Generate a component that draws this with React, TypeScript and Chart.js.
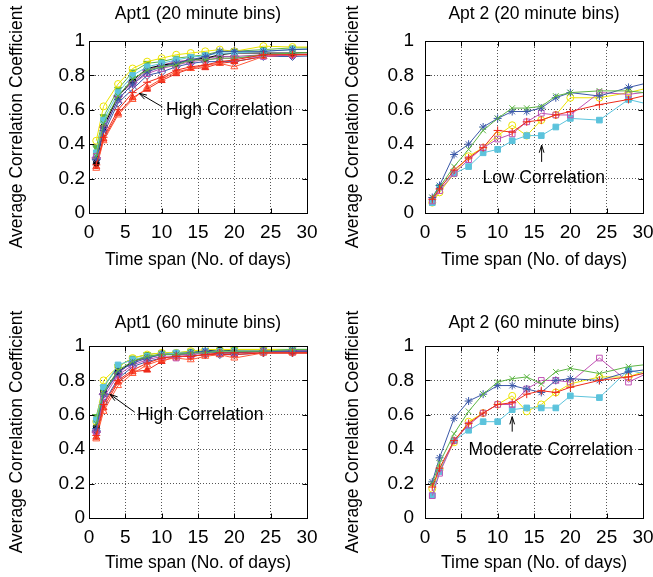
import React, { useEffect, useRef } from 'react';
import { Chart, registerables } from 'chart.js';
Chart.register(...registerables);

const FONT = '"Liberation Sans", Arial, Helvetica, sans-serif';
Chart.defaults.font.family = FONT;

// ---------- data ----------
const days = [1, 2, 4, 6, 8, 10, 12, 14, 16, 18, 20, 24, 28, 32];
const xTickLabels = ['0', '5', '10', '15', '20', '25', '30'];
const yTickLabels = ['0', '0.2', '0.4', '0.6', '0.8', '1'];

// Apt1, 20 minute bins
const a1m20RedPlus = [0.28, 0.44, 0.60, 0.70, 0.76, 0.79, 0.83, 0.85, 0.86, 0.88, 0.89, 0.92, 0.92, 0.925];
const a1m20GreenX = [0.33, 0.52, 0.68, 0.78, 0.83, 0.85, 0.86, 0.89, 0.89, 0.90, 0.90, 0.92, 0.93, 0.935];
const a1m20BlueStar = [0.31, 0.48, 0.66, 0.75, 0.82, 0.85, 0.87, 0.89, 0.91, 0.94, 0.94, 0.94, 0.95, 0.955];
const a1m20MagentaSq = [0.33, 0.49, 0.66, 0.75, 0.81, 0.84, 0.86, 0.88, 0.89, 0.90, 0.90, 0.91, 0.92, 0.925];
const a1m20CyanSq = [0.35, 0.54, 0.70, 0.80, 0.85, 0.87, 0.89, 0.905, 0.915, 0.93, 0.93, 0.94, 0.95, 0.955];
const a1m20YellowCirc = [0.42, 0.62, 0.75, 0.84, 0.88, 0.90, 0.92, 0.93, 0.94, 0.95, 0.94, 0.97, 0.965, 0.965];
const a1m20BlackCirc = [0.29, 0.50, 0.68, 0.77, 0.84, 0.86, 0.87, 0.89, 0.90, 0.92, 0.93, 0.93, 0.93, 0.935];
const a1m20OrangeTri = [0.26, 0.42, 0.57, 0.66, 0.73, 0.78, 0.82, 0.84, 0.86, 0.87, 0.85, 0.91, 0.92, 0.92];
const a1m20RedTri = [0.27, 0.43, 0.58, 0.67, 0.72, 0.77, 0.81, 0.84, 0.845, 0.87, 0.88, 0.91, 0.92, 0.92];
const a1m20GreenInvTri = [0.38, 0.56, 0.72, 0.82, 0.87, 0.88, 0.90, 0.91, 0.92, 0.94, 0.94, 0.95, 0.96, 0.96];
const a1m20BlueDiam = [0.31, 0.46, 0.64, 0.72, 0.80, 0.82, 0.85, 0.87, 0.88, 0.88, 0.88, 0.91, 0.91, 0.915];
const a1m20PurpleDiam = [0.32, 0.50, 0.68, 0.76, 0.83, 0.86, 0.88, 0.89, 0.90, 0.91, 0.91, 0.92, 0.92, 0.925];

// Apt1, 60 minute bins
const a1m60RedPlus = [0.48, 0.66, 0.80, 0.86, 0.90, 0.93, 0.94, 0.94, 0.95, 0.96, 0.96, 0.96, 0.96, 0.96];
const a1m60GreenX = [0.55, 0.73, 0.86, 0.91, 0.94, 0.95, 0.95, 0.96, 0.96, 0.97, 0.97, 0.97, 0.98, 0.98];
const a1m60BlueStar = [0.52, 0.72, 0.85, 0.90, 0.93, 0.95, 0.95, 0.96, 0.97, 0.96, 0.96, 0.97, 0.97, 0.97];
const a1m60MagentaSq = [0.50, 0.70, 0.83, 0.89, 0.92, 0.94, 0.93, 0.95, 0.96, 0.96, 0.96, 0.97, 0.97, 0.97];
const a1m60CyanSq = [0.57, 0.76, 0.89, 0.92, 0.94, 0.95, 0.96, 0.96, 0.97, 0.97, 0.97, 0.97, 0.98, 0.98];
const a1m60YellowCirc = [0.56, 0.80, 0.88, 0.93, 0.95, 0.96, 0.96, 0.97, 0.98, 0.98, 0.98, 0.98, 0.98, 0.98];
const a1m60BlackCirc = [0.53, 0.74, 0.85, 0.91, 0.94, 0.95, 0.96, 0.96, 0.97, 0.98, 0.97, 0.97, 0.97, 0.97];
const a1m60OrangeTri = [0.46, 0.62, 0.77, 0.84, 0.89, 0.92, 0.93, 0.92, 0.94, 0.95, 0.93, 0.96, 0.96, 0.96];
const a1m60RedTri = [0.47, 0.64, 0.79, 0.85, 0.86, 0.91, 0.94, 0.94, 0.95, 0.95, 0.95, 0.96, 0.96, 0.96];
const a1m60GreenInvTri = [0.59, 0.76, 0.88, 0.93, 0.95, 0.96, 0.96, 0.97, 0.97, 0.97, 0.98, 0.98, 0.98, 0.98];
const a1m60BlueDiam = [0.51, 0.67, 0.81, 0.88, 0.91, 0.93, 0.94, 0.94, 0.95, 0.95, 0.95, 0.96, 0.96, 0.96];
const a1m60PurpleDiam = [0.50, 0.72, 0.84, 0.91, 0.93, 0.95, 0.95, 0.95, 0.96, 0.96, 0.96, 0.97, 0.97, 0.97];

// Apt 2, 20 minute bins
const a2m20RedPlus = [0.08, 0.14, 0.25, 0.32, 0.38, 0.48, 0.47, 0.53, 0.54, 0.57, 0.59, 0.63, 0.66, 0.70];
const a2m20GreenX = [0.09, 0.15, 0.27, 0.37, 0.48, 0.55, 0.61, 0.61, 0.62, 0.68, 0.70, 0.71, 0.71, 0.69];
const a2m20BlueStar = [0.09, 0.16, 0.34, 0.40, 0.50, 0.55, 0.59, 0.59, 0.61, 0.67, 0.70, 0.68, 0.73, 0.77];
const a2m20MagentaSq = [0.07, 0.13, 0.23, 0.31, 0.38, 0.43, 0.46, 0.53, 0.58, 0.57, 0.57, 0.70, 0.69, 0.71];
const a2m20CyanSq = [0.06, 0.15, 0.23, 0.27, 0.35, 0.37, 0.42, 0.45, 0.45, 0.50, 0.55, 0.54, 0.66, 0.62];
const a2m20YellowCirc = [0.06, 0.12, 0.23, 0.33, 0.38, 0.45, 0.51, 0.45, 0.54, 0.57, 0.67, 0.67, 0.70, 0.74];

// Apt 2, 60 minute bins
const a2m60RedPlus = [0.18, 0.29, 0.45, 0.55, 0.61, 0.66, 0.67, 0.72, 0.74, 0.73, 0.76, 0.80, 0.82, 0.86];
const a2m60GreenX = [0.20, 0.32, 0.49, 0.62, 0.72, 0.79, 0.81, 0.82, 0.78, 0.85, 0.87, 0.84, 0.88, 0.90];
const a2m60BlueStar = [0.21, 0.35, 0.58, 0.68, 0.72, 0.77, 0.77, 0.75, 0.73, 0.80, 0.81, 0.80, 0.85, 0.87];
const a2m60MagentaSq = [0.13, 0.26, 0.45, 0.54, 0.61, 0.66, 0.66, 0.75, 0.80, 0.80, 0.79, 0.93, 0.79, 0.87];
const a2m60CyanSq = [0.13, 0.27, 0.45, 0.51, 0.56, 0.56, 0.63, 0.64, 0.64, 0.64, 0.71, 0.70, 0.86, 0.82];
const a2m60YellowCirc = [0.17, 0.28, 0.44, 0.56, 0.61, 0.66, 0.71, 0.62, 0.66, 0.73, 0.78, 0.82, 0.82, 0.88];

// ---------- styles ----------
const C = {
  red: '#ee2a1a', green: '#5db544', blue: '#3a58a8', magenta: '#c052b4',
  cyan: '#5cc3dc', yellow: '#ece400', black: '#000000', orange: '#ff5a3a', purple: '#a04fa6',
};
type Sty = { color: string; shape: string; filled: boolean; rot?: number; r?: number };
const S: Record<string, Sty> = {
  redPlus: { color: C.red, shape: 'cross', filled: false, r: 4 },
  greenX: { color: C.green, shape: 'crossRot', filled: false, r: 4 },
  blueStar: { color: C.blue, shape: 'star', filled: false, r: 4 },
  magentaSq: { color: C.magenta, shape: 'rect', filled: false, r: 4 },
  cyanSq: { color: C.cyan, shape: 'rect', filled: true, r: 4 },
  yellowCirc: { color: C.yellow, shape: 'circle', filled: false, r: 3.5 },
  blackCirc: { color: C.black, shape: 'circle', filled: true, r: 3 },
  orangeTri: { color: C.orange, shape: 'triangle', filled: false, r: 4 },
  redTri: { color: C.red, shape: 'triangle', filled: true, r: 4 },
  greenInvTri: { color: C.green, shape: 'triangle', filled: true, rot: 180, r: 4 },
  blueDiam: { color: C.blue, shape: 'rectRot', filled: false, r: 4 },
  purpleDiam: { color: C.purple, shape: 'rectRot', filled: true, r: 4.5 },
};

function ds(vals: number[], s: Sty) {
  return {
    data: days.map((d, i) => ({ x: d, y: vals[i] })),
    borderColor: s.color,
    borderWidth: 1,
    backgroundColor: s.color,
    pointStyle: s.shape,
    pointRadius: s.r ?? 3.5,
    pointRotation: s.rot ?? 0,
    pointBorderColor: s.color,
    pointBackgroundColor: s.filled ? s.color : 'rgba(0,0,0,0)',
    pointBorderWidth: 1,
    tension: 0,
    fill: false,
    clip: 0,
  };
}

const apt1m20 = () => [
  ds(a1m20RedPlus, S.redPlus), ds(a1m20GreenX, S.greenX), ds(a1m20BlueStar, S.blueStar),
  ds(a1m20MagentaSq, S.magentaSq), ds(a1m20CyanSq, S.cyanSq), ds(a1m20YellowCirc, S.yellowCirc),
  ds(a1m20BlackCirc, S.blackCirc), ds(a1m20OrangeTri, S.orangeTri), ds(a1m20RedTri, S.redTri),
  ds(a1m20GreenInvTri, S.greenInvTri), ds(a1m20BlueDiam, S.blueDiam), ds(a1m20PurpleDiam, S.purpleDiam),
];
const apt1m60 = () => [
  ds(a1m60RedPlus, S.redPlus), ds(a1m60GreenX, S.greenX), ds(a1m60BlueStar, S.blueStar),
  ds(a1m60MagentaSq, S.magentaSq), ds(a1m60CyanSq, S.cyanSq), ds(a1m60YellowCirc, S.yellowCirc),
  ds(a1m60BlackCirc, S.blackCirc), ds(a1m60OrangeTri, S.orangeTri), ds(a1m60RedTri, S.redTri),
  ds(a1m60GreenInvTri, S.greenInvTri), ds(a1m60BlueDiam, S.blueDiam), ds(a1m60PurpleDiam, S.purpleDiam),
];
const apt2m20 = () => [
  ds(a2m20RedPlus, S.redPlus), ds(a2m20GreenX, S.greenX), ds(a2m20BlueStar, S.blueStar),
  ds(a2m20MagentaSq, S.magentaSq), ds(a2m20CyanSq, S.cyanSq), ds(a2m20YellowCirc, S.yellowCirc),
];
const apt2m60 = () => [
  ds(a2m60RedPlus, S.redPlus), ds(a2m60GreenX, S.greenX), ds(a2m60BlueStar, S.blueStar),
  ds(a2m60MagentaSq, S.magentaSq), ds(a2m60CyanSq, S.cyanSq), ds(a2m60YellowCirc, S.yellowCirc),
];

type Note = { text: string; tx: number; ty: number; x1: number; y1: number; x2: number; y2: number };

function framePlugin(title: string, titleY: number, note: Note) {
  return {
    id: 'frameNote',
    afterDatasetsDraw(chart: any) {
      const { ctx, chartArea: a, scales } = chart;
      const x = scales.x, y = scales.y;
      const L = Math.round(a.left) + 0.5, R = Math.round(a.right) + 0.5;
      const T = Math.round(a.top) + 0.5, B = Math.round(a.bottom) + 0.5;
      ctx.save();
      ctx.setLineDash([]);
      ctx.strokeStyle = '#000';
      ctx.lineWidth = 1;
      ctx.strokeRect(L, T, R - L, B - T);
      ctx.beginPath();
      for (let i = 0; i < xTickLabels.length; i++) {
        const px = Math.round(x.getPixelForValue(i * 5)) + 0.5;
        ctx.moveTo(px, B); ctx.lineTo(px, B - 5);
        ctx.moveTo(px, T); ctx.lineTo(px, T + 5);
      }
      for (let i = 0; i < yTickLabels.length; i++) {
        const py = Math.round(y.getPixelForValue(i * 0.2)) + 0.5;
        ctx.moveTo(L, py); ctx.lineTo(L + 5, py);
        ctx.moveTo(R, py); ctx.lineTo(R - 5, py);
      }
      ctx.stroke();
      ctx.restore();
    },
    afterDraw(chart: any) {
      const { ctx, scales, chartArea: a } = chart;
      const x = scales.x, y = scales.y;
      ctx.save();
      ctx.fillStyle = '#000';
      ctx.font = '17.5px ' + FONT;
      ctx.textBaseline = 'middle';
      ctx.textAlign = 'center';
      ctx.fillText(title, (a.left + a.right) / 2, titleY);
      ctx.textAlign = 'left';
      ctx.fillText(note.text, x.getPixelForValue(note.tx), y.getPixelForValue(note.ty));
      const ax1 = x.getPixelForValue(note.x1), ay1 = y.getPixelForValue(note.y1);
      const ax2 = x.getPixelForValue(note.x2), ay2 = y.getPixelForValue(note.y2);
      ctx.strokeStyle = '#000';
      ctx.lineWidth = 1;
      ctx.beginPath();
      ctx.moveTo(ax1, ay1); ctx.lineTo(ax2, ay2);
      const ang = Math.atan2(ay2 - ay1, ax2 - ax1);
      const hl = 8, ha = 0.3;
      ctx.moveTo(ax2, ay2);
      ctx.lineTo(ax2 - hl * Math.cos(ang - ha), ay2 - hl * Math.sin(ang - ha));
      ctx.moveTo(ax2, ay2);
      ctx.lineTo(ax2 - hl * Math.cos(ang + ha), ay2 - hl * Math.sin(ang + ha));
      ctx.stroke();
      ctx.restore();
    },
  };
}

type PanelCfg = {
  left: number; top: number; w: number; h: number; title: string; titleY: number;
  plotTop: number; rightPad: number; xAxisH: number; xTitleBottom: number;
  yTickPad: number; datasets: () => any[]; note: Note;
};

function Panel({ cfg }: { cfg: PanelCfg }) {
  const ref = useRef<HTMLCanvasElement>(null);
  useEffect(() => {
    const chart = new Chart(ref.current as HTMLCanvasElement, {
      type: 'line',
      data: { datasets: cfg.datasets() },
      options: {
        responsive: false,
        animation: false,
        devicePixelRatio: 1,
        events: [],
        layout: { padding: { left: 0, right: cfg.rightPad, top: cfg.plotTop, bottom: 0 } },
        plugins: {
          legend: { display: false },
          tooltip: { enabled: false },
          title: { display: false },
        },
        scales: {
          x: {
            type: 'linear', min: 0, max: 30,
            ticks: {
              stepSize: 5, autoSkip: false, maxRotation: 0, padding: 8.5, color: '#000',
              font: { family: FONT, size: 19 },
              callback: (v: any) => xTickLabels[Math.round(Number(v) / 5)],
            },
            grid: { color: '#555', drawTicks: false, lineWidth: 1 },
            border: { display: false, dash: [1, 2] },
            title: {
              display: true, text: 'Time span (No. of days)', color: '#000',
              font: { family: FONT, size: 17.5 }, padding: { top: 0, bottom: cfg.xTitleBottom },
            },
            afterFit: (s: any) => { s.height = cfg.xAxisH; s.paddingLeft = 0; s.paddingRight = 0; },
          },
          y: {
            type: 'linear', min: 0, max: 1,
            ticks: {
              stepSize: 0.2, padding: cfg.yTickPad, color: '#000',
              font: { family: FONT, size: 19 },
              callback: (v: any) => yTickLabels[Math.round(Number(v) / 0.2)],
            },
            grid: { color: '#555', drawTicks: false, lineWidth: 1 },
            border: { display: false, dash: [1, 2] },
            title: {
              display: true, text: 'Average Correlation Coefficient', color: '#000',
              font: { family: FONT, size: 17.5 }, padding: { top: 7, bottom: 0 },
            },
            afterFit: (s: any) => { s.width = 89; s.paddingTop = 0; s.paddingBottom = 0; },
          },
        },
      } as any,
      plugins: [framePlugin(cfg.title, cfg.titleY, cfg.note)],
    });
    return () => chart.destroy();
  }, []);
  return (
    <canvas
      ref={ref}
      width={cfg.w}
      height={cfg.h}
      style={{ position: 'absolute', left: cfg.left, top: cfg.top, width: cfg.w, height: cfg.h, display: 'block' }}
    />
  );
}

const panels: PanelCfg[] = [
  {
    left: 0, top: 0, w: 326, h: 290, title: 'Apt1 (20 minute bins)', titleY: 14.5, plotTop: 41,
    rightPad: 19, xAxisH: 77, xTitleBottom: 19.5, yTickPad: 4, datasets: apt1m20,
    note: { text: 'High Correlation', tx: 10.6, ty: 0.6, x1: 10.1, y1: 0.617, x2: 6.9, y2: 0.696 },
  },
  {
    left: 336, top: 0, w: 317, h: 290, title: 'Apt 2 (20 minute bins)', titleY: 14.5, plotTop: 41,
    rightPad: 10, xAxisH: 77, xTitleBottom: 19.5, yTickPad: 11, datasets: apt2m20,
    note: { text: 'Low Correlation', tx: 7.9, ty: 0.2, x1: 16.05, y1: 0.297, x2: 16.05, y2: 0.395 },
  },
  {
    left: 0, top: 305, w: 326, h: 272, title: 'Apt1 (60 minute bins)', titleY: 18, plotTop: 41,
    rightPad: 19, xAxisH: 59, xTitleBottom: 3.5, yTickPad: 4, datasets: apt1m60,
    note: { text: 'High Correlation', tx: 6.6, ty: 0.6, x1: 6.3, y1: 0.615, x2: 2.9, y2: 0.719 },
  },
  {
    left: 336, top: 305, w: 317, h: 272, title: 'Apt 2 (60 minute bins)', titleY: 18, plotTop: 41,
    rightPad: 10, xAxisH: 59, xTitleBottom: 3.5, yTickPad: 11, datasets: apt2m60,
    note: { text: 'Moderate Correlation', tx: 6.0, ty: 0.395, x1: 12.0, y1: 0.502, x2: 12.0, y2: 0.589 },
  },
];

export default function App() {
  return (
    <div style={{ position: 'absolute', left: 0, top: 0, width: 653, height: 577, background: '#fff', overflow: 'hidden' }}>
      {panels.map((p, i) => <Panel key={i} cfg={p} />)}
    </div>
  );
}
